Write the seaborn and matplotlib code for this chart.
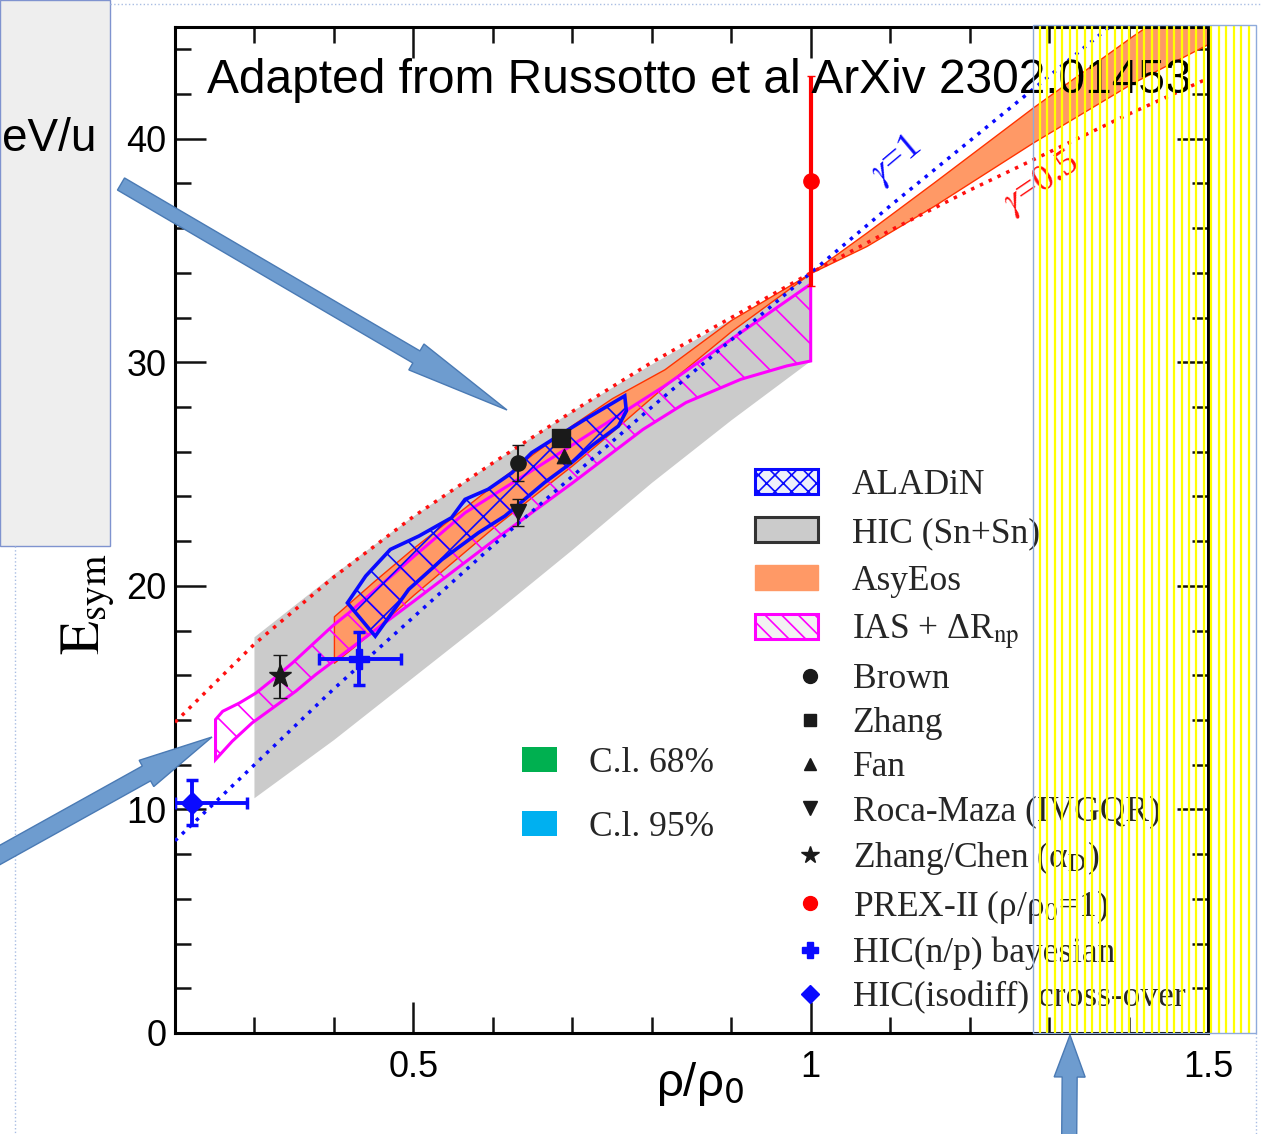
import numpy as np
import matplotlib
matplotlib.use("Agg")
import matplotlib.pyplot as plt
import seaborn as sns
from matplotlib.patches import Patch, Polygon, Rectangle
from matplotlib.lines import Line2D
from matplotlib.collections import LineCollection
from matplotlib.font_manager import FontProperties
from matplotlib.ticker import MultipleLocator

# ------------------------------------------------------------------
# data
# ------------------------------------------------------------------
# reference curves gamma = 1 (blue) and gamma = 0.5 (red)
gamma1_x = [0.20, 0.30, 0.40, 0.50, 0.60, 0.70, 0.80, 0.90, 1.00, 1.10, 1.20, 1.30, 1.40]
gamma1_y = [8.6, 12.0, 15.4, 18.6, 21.8, 24.9, 28.0, 31.0, 34.0, 37.0, 39.9, 42.8, 45.7]
gamma05_x = [0.20, 0.30, 0.40, 0.50, 0.60, 0.70, 0.80, 0.90, 1.00, 1.10, 1.20, 1.30, 1.40, 1.50]
gamma05_y = [13.9, 17.4, 20.4, 23.1, 25.5, 27.8, 30.0, 32.0, 34.0, 35.9, 37.7, 39.4, 41.1, 42.7]

# HIC (Sn+Sn) grey band outline
hic_x = [0.30, 0.40, 0.50, 0.60, 0.70, 0.80, 0.90, 1.00, 1.00, 0.90, 0.80, 0.70, 0.60, 0.50, 0.40, 0.30]
hic_y = [17.7, 20.5, 23.1, 25.5, 27.8, 29.9, 31.9, 33.9, 30.05, 27.4, 24.6, 21.6, 18.7, 15.9, 13.1, 10.5]

# AsyEos band (lower / upper edge)
asy_x = [0.40, 0.45, 0.50, 0.55, 0.60, 0.65, 0.70, 0.75, 0.816, 0.90, 1.00, 1.07, 1.155, 1.28, 1.405, 1.50]
asy_lo = [16.56, 18.0, 19.6, 21.1, 22.6, 24.0, 25.4, 26.9, 28.94, 31.4, 34.0, 35.2, 37.0, 39.84, 42.5, 44.24]
asy_hi = [18.64, 20.2, 21.7, 23.1, 24.5, 25.9, 27.2, 28.4, 29.69, 31.9, 34.0, 35.8, 38.05, 41.41, 44.6, 46.9]

# IAS + dR_np outline
ias_x = [0.251, 0.260, 0.281, 0.302, 0.323, 0.348, 0.373, 0.398, 0.419, 0.50, 0.565, 0.632, 0.691,
         0.816, 0.90, 1.00, 1.00, 0.97, 0.912, 0.843, 0.789, 0.70, 0.60, 0.50, 0.402, 0.377,
         0.352, 0.323, 0.297, 0.272, 0.251]
ias_y = [14.02, 14.39, 14.76, 15.21, 15.81, 16.56, 17.38, 18.20, 18.80, 21.3, 23.27, 24.77, 26.1,
         28.94, 31.03, 33.5, 30.06, 29.84, 29.24, 28.2, 27.0, 24.6, 22.0, 19.3, 16.70, 16.03,
         15.29, 14.54, 13.87, 13.05, 12.23]

# ALADiN outline
ala_x = [0.417, 0.440, 0.471, 0.507, 0.548, 0.565, 0.594, 0.624, 0.649, 0.682, 0.716, 0.766,
         0.768, 0.758, 0.724, 0.699, 0.665, 0.640, 0.615, 0.582, 0.536, 0.494, 0.452]
ala_y = [19.24, 20.44, 21.63, 22.23, 23.05, 23.87, 24.32, 25.06, 25.96, 26.70, 27.45, 28.50,
         27.82, 27.15, 26.26, 25.51, 24.62, 23.87, 23.12, 22.38, 21.18, 19.84, 17.75]

# single measurements
brown_x, brown_y, brown_e = [0.632], [25.5], [0.8]
zhang_x, zhang_y = [0.686], [26.63]
fan_x, fan_y = [0.690], [25.81]
roca_x, roca_y, roca_e = [0.632], [23.3], [0.6]
zc_x, zc_y, zc_e = [0.332], [15.96], [0.97]
prex_x, prex_y, prex_e = [1.0], [38.1], [4.7]
bay_x, bay_y, bay_ye, bay_xlo, bay_xhi = [0.432], [16.75], [1.2], [0.051], [0.052]
iso_x, iso_y, iso_ye, iso_xlo, iso_xhi = [0.222], [10.3], [1.0], [0.022], [0.068]

x_tick_vals = [0.5, 1.0, 1.5]
x_tick_labels = ["0.5", "1", "1.5"]
y_tick_vals = [0, 10, 20, 30, 40]

legend_band_labels = ["ALADiN", "HIC (Sn+Sn)", "AsyEos", "IAS + ΔR$_{\\rm np}$"]
legend_point_labels = ["Brown", "Zhang", "Fan", "Roca-Maza (IVGQR)", "Zhang/Chen (α$_{\\rm D}$)",
                       "PREX-II (ρ/ρ$_0$=1)", "HIC(n/p) bayesian", "HIC(isodiff) cross-over"]
cl_labels = ["C.l. 68%", "C.l. 95%"]

# ------------------------------------------------------------------
sns.set_theme(style="ticks")
plt.rcParams["font.family"] = ["Liberation Sans", "DejaVu Sans"]
plt.rcParams["hatch.linewidth"] = 1.2
plt.rcParams["axes.linewidth"] = 2.2

W, H = 1262, 1134
def fx(px):
    return px / W
def fy(py):
    return 1 - py / H

fig = plt.figure(figsize=(W / 100, H / 100), dpi=100)
fig.patch.set_facecolor("white")
ax = fig.add_axes([fx(175), fy(1033), (1208 - 175) / W, (1033 - 27) / H])
ax.set_xlim(0.2, 1.5)
ax.set_ylim(0, 45)

BLUE = "#0a0aff"
RED = "#ff1010"
MAG = "#ff00ff"
ORANGE = "#ff9966"
GREY = "#cbcbcb"

# bands
ax.fill(hic_x, hic_y, facecolor=GREY, edgecolor="none", zorder=1)
ax.fill_between(asy_x, asy_lo, asy_hi, facecolor=ORANGE, edgecolor="#ff3300", linewidth=1.0, zorder=2)
ax.fill(ias_x, ias_y, facecolor="none", edgecolor=MAG, hatch="\\", linewidth=2.2, zorder=3)
ax.fill(ala_x, ala_y, facecolor="none", edgecolor=BLUE, hatch="x", linewidth=2.6, zorder=4)

# reference curves
sns.lineplot(x=gamma1_x, y=gamma1_y, ax=ax, color=BLUE, linewidth=2.5,
             linestyle=(0, (1, 1.8)), sort=False, zorder=5)
sns.lineplot(x=gamma05_x, y=gamma05_y, ax=ax, color=RED, linewidth=2.5,
             linestyle=(0, (1, 1.8)), sort=False, zorder=5)

# measurements
ax.errorbar(brown_x, brown_y, yerr=brown_e, fmt="o", color="k", ms=11, elinewidth=1.5, capsize=4, zorder=7)
ax.errorbar(roca_x, roca_y, yerr=roca_e, fmt="v", color="k", ms=12, elinewidth=1.5, capsize=4, zorder=7)
sns.scatterplot(x=zhang_x, y=zhang_y, ax=ax, marker="s", color="k", s=150, edgecolor="k", zorder=7)
sns.scatterplot(x=fan_x, y=fan_y, ax=ax, marker="^", color="k", s=110, edgecolor="k", zorder=7)
ax.errorbar(zc_x, zc_y, yerr=zc_e, fmt="*", color="k", ms=17, elinewidth=1.5, capsize=5, zorder=7)
ax.errorbar(prex_x, prex_y, yerr=prex_e, fmt="o", color="#ff0000", ms=11, elinewidth=3, capsize=3, zorder=7)
ax.errorbar(bay_x, bay_y, yerr=bay_ye, xerr=[bay_xlo, bay_xhi], fmt="P", color=BLUE, ms=15,
            elinewidth=2.8, capsize=4, capthick=2.5, zorder=7)
ax.errorbar(iso_x, iso_y, yerr=iso_ye, xerr=[iso_xlo, iso_xhi], fmt="D", color=BLUE, ms=11,
            elinewidth=2.8, capsize=4, capthick=2.5, zorder=7)

# gamma labels
ax.text(1.107, 39.05, r"$\gamma$=1", color=BLUE, fontsize=27, rotation=40, ha="center", va="center",
        family="Liberation Serif", math_fontfamily="stix", zorder=6)
ax.text(1.291, 38.0, r"$\gamma$=0.5", color=RED, fontsize=27, rotation=34, ha="center", va="center",
        family="Liberation Serif", math_fontfamily="stix", zorder=6)

# axes styling
for s in ax.spines.values():
    s.set_linewidth(2.2)
    s.set_color("black")
ax.set_xticks(x_tick_vals, labels=x_tick_labels)
ax.set_yticks(y_tick_vals)
ax.xaxis.set_minor_locator(MultipleLocator(0.1))
ax.yaxis.set_minor_locator(MultipleLocator(2))
ax.tick_params(which="both", direction="in", top=True, right=True, color="#111111", width=1.8,
               labelsize=26, labelcolor="black")
ax.tick_params(which="major", length=22)
ax.tick_params(which="minor", length=11.5)
ax.tick_params(axis="y", pad=6)
ax.tick_params(axis="x", pad=12)

xl = ax.set_xlabel("ρ/ρ$_{0}$", fontsize=34, color="black", math_fontfamily="dejavusans")
ax.xaxis.set_label_coords((700 - 175) / 1033, (1033 - 1060) / 1006)
yl = ax.set_ylabel(r"$\mathrm{E}_{\mathrm{sym}}$", fontsize=40, color="black", math_fontfamily="stix")
ax.yaxis.set_label_coords((88 - 175) / 1033, (1033 - 604) / 1006)
yl.set_verticalalignment("center")
yl.set_horizontalalignment("center")

# legends
fp_leg = FontProperties(family="Liberation Serif", size=25.5, math_fontfamily="stix")
band_handles = [
    Patch(facecolor="#eef0fa", edgecolor=BLUE, hatch="xx", linewidth=2.2),
    Patch(facecolor=GREY, edgecolor="#333333", linewidth=2.2),
    Patch(facecolor=ORANGE, edgecolor=ORANGE, linewidth=1),
    Patch(facecolor="#f2f2f2", edgecolor=MAG, hatch="\\\\", linewidth=2.2),
]
legA = fig.legend(band_handles, legend_band_labels, loc="upper left",
                  bbox_to_anchor=(fx(755), fy(469)), bbox_transform=fig.transFigure,
                  frameon=False, prop=fp_leg, handlelength=1.78, handleheight=0.68,
                  handletextpad=0.96, labelspacing=0.42, borderpad=0, borderaxespad=0)

point_handles = [
    Line2D([], [], ls="none", marker="o", color="k", ms=10),
    Line2D([], [], ls="none", marker="s", color="k", ms=9),
    Line2D([], [], ls="none", marker="^", color="k", ms=9),
    Line2D([], [], ls="none", marker="v", color="k", ms=10),
    Line2D([], [], ls="none", marker="*", color="k", ms=13),
    Line2D([], [], ls="none", marker="o", color="#ff0000", ms=10),
    Line2D([], [], ls="none", marker="P", color=BLUE, ms=11),
    Line2D([], [], ls="none", marker="D", color=BLUE, ms=9),
]
legB = fig.legend(point_handles, legend_point_labels, loc="upper left",
                  bbox_to_anchor=(fx(796), fy(663)), bbox_transform=fig.transFigure,
                  frameon=False, prop=fp_leg, handlelength=0.8, numpoints=1,
                  handletextpad=0.8, labelspacing=0.31, borderpad=0, borderaxespad=0)

cl_handles = [Patch(facecolor="#00b050", edgecolor="none"),
              Patch(facecolor="#00b0f0", edgecolor="none")]
legC = fig.legend(cl_handles, cl_labels, loc="upper left",
                  bbox_to_anchor=(fx(522), fy(747)), bbox_transform=fig.transFigure,
                  frameon=False, prop=fp_leg, handlelength=1.0, handleheight=0.73,
                  handletextpad=0.88, labelspacing=0.87, borderpad=0, borderaxespad=0)

# ------------------------------------------------------------------
# slide decorations (in pixel space of the figure)
# ------------------------------------------------------------------
fig.text(fx(207), fy(93), "Adapted from Russotto et al ArXiv 2302.01453", fontsize=34.5,
         ha="left", va="baseline", color="black", zorder=8)

fig.add_artist(Rectangle((0, fy(546)), fx(110), 546 / H, transform=fig.transFigure,
                         facecolor="#eeeeee", edgecolor="#7f93cf", linewidth=1.0, zorder=1))
fig.text(fx(2), fy(151), "eV/u", fontsize=33, ha="left", va="baseline", color="black", zorder=2)

dot_kw = dict(transform=fig.transFigure, color="#a9bde3", linewidth=1.0, linestyle=":", zorder=1)
fig.add_artist(Line2D([fx(110), fx(1262)], [fy(4), fy(4)], **dot_kw))
fig.add_artist(Line2D([fx(15), fx(15)], [fy(546), fy(1134)], **dot_kw))
fig.add_artist(Line2D([fx(1256), fx(1256)], [fy(1033), fy(1134)], **dot_kw))

# yellow striped box
stripe_x = np.arange(1040, 1255, 7.45)
segs = [[(fx(px), fy(25)), (fx(px), fy(1033))] for px in stripe_x]
fig.add_artist(LineCollection(segs, transform=fig.transFigure, colors="#ffff00",
                              linewidths=1.6, zorder=10))
fig.add_artist(Rectangle((fx(1033), fy(1033)), (1256 - 1033) / W, (1033 - 25) / H,
                         transform=fig.transFigure, facecolor="none", edgecolor="#8eaadb",
                         linewidth=1.0, zorder=10))

def arrow_poly(x0, y0, x1, y1, w, hw, hl):
    tail = np.array([x0, y0], float)
    tip = np.array([x1, y1], float)
    d = tip - tail
    u = d / np.hypot(*d)
    n = np.array([-u[1], u[0]])
    base = tip - u * hl
    pts = [tail + n * w / 2, base + n * w / 2, base + n * hw / 2, tip,
           base - n * hw / 2, base - n * w / 2, tail - n * w / 2]
    return [(fx(p[0]), fy(p[1])) for p in pts]

for a in [(121, 184, 507, 410, 14, 30, 105),
          (-20, 866, 212, 737, 17, 30, 75),
          (1069, 1160, 1070, 1035, 15, 31, 42)]:
    fig.add_artist(Polygon(arrow_poly(*a), closed=True, transform=fig.transFigure,
                           facecolor="#6e9ccf", edgecolor="#4a7ab4", linewidth=1.0, zorder=11))

fig.savefig("out.png", dpi=100)
